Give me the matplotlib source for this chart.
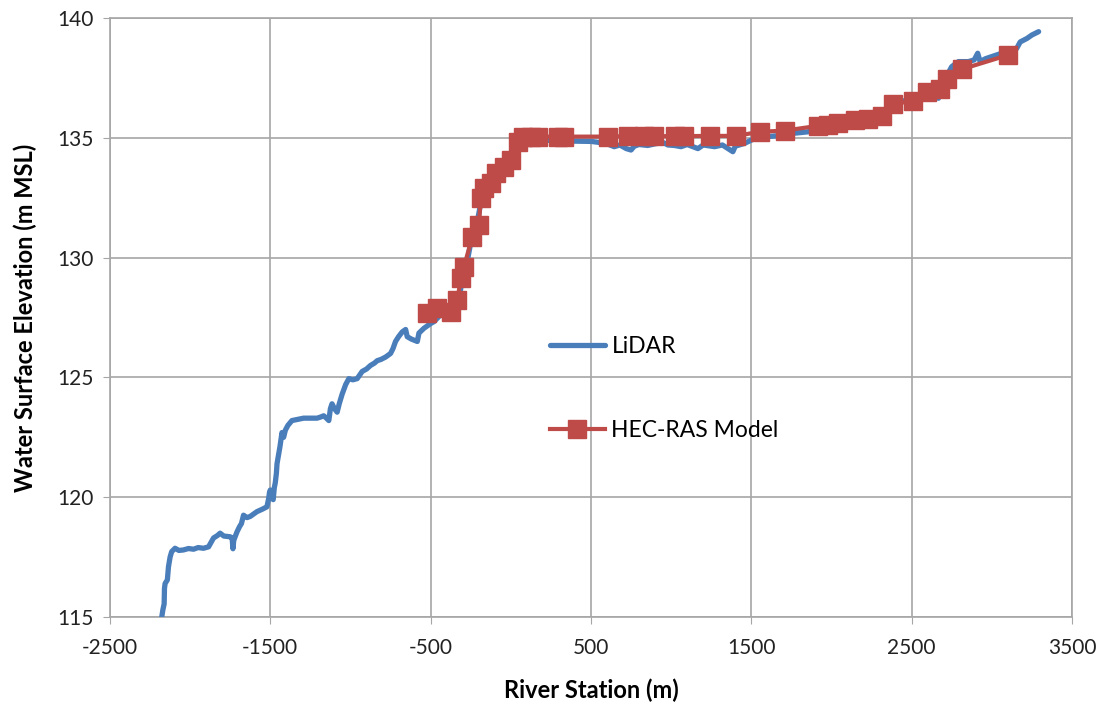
import matplotlib
matplotlib.use('Agg')
import matplotlib.pyplot as plt

# LiDAR water surface profile (river station m, elevation m MSL)
lidar_x = [-2177, -2170, -2162, -2160, -2156, -2142, -2135, -2125, -2115, -2094,
           -2070, -2042, -2010, -1979, -1950, -1917, -1885, -1854, -1830, -1813,
           -1790, -1750, -1738, -1733, -1728, -1708, -1692, -1680, -1667, -1645,
           -1625, -1583, -1550, -1521, -1510, -1505, -1500, -1490, -1482, -1475,
           -1469, -1462, -1458, -1440, -1427, -1417, -1406, -1390, -1365, -1330,
           -1292, -1250, -1208, -1185, -1167, -1150, -1135, -1125, -1115, -1100,
           -1083, -1070, -1052, -1030, -1010, -985, -958, -927, -900, -875,
           -850, -833, -810, -781, -750, -735, -719, -700, -677, -656,
           -646, -620, -583, -573, -542, -500, -479, -440, -400, -360,
           -330, -310, -290, -270, -245, -215, -195, -180, -150, -120,
           -90, -60, -20, 10, 40, 70, 120, 200, 300, 400,
           500, 560, 600, 645, 680, 720, 750, 770, 800, 854,
           900, 950, 980, 1020, 1062, 1100, 1167, 1200, 1271, 1320,
           1385, 1400, 1458, 1521, 1600, 1688, 1750, 1854, 1900, 1960,
           2000, 2060, 2100, 2160, 2200, 2260, 2300, 2350, 2385, 2417,
           2479, 2530, 2580, 2620, 2650, 2667, 2687, 2720, 2750, 2792,
           2854, 2890, 2912, 2927, 2960, 3000, 3062, 3100, 3130, 3156,
           3177, 3220, 3250, 3292]
lidar_y = [115.0, 115.3, 115.55, 116.2, 116.4, 116.55, 117.1, 117.5, 117.73, 117.87,
           117.78, 117.8, 117.86, 117.83, 117.9, 117.87, 117.93, 118.3, 118.4, 118.5,
           118.38, 118.35, 118.3, 117.85, 118.2, 118.55, 118.77, 118.9, 119.25, 119.15,
           119.2, 119.4, 119.5, 119.6, 119.95, 120.2, 120.3, 120.0, 119.9, 120.4,
           120.6, 121.0, 121.4, 122.1, 122.7, 122.5, 122.8, 123.0, 123.2, 123.25,
           123.3, 123.3, 123.3, 123.35, 123.4, 123.3, 123.2, 123.7, 123.9, 123.7,
           123.55, 123.9, 124.3, 124.7, 124.95, 124.9, 124.95, 125.25, 125.35, 125.5,
           125.6, 125.7, 125.75, 125.85, 126.0, 126.2, 126.5, 126.7, 126.9, 127.0,
           126.7, 126.6, 126.5, 126.85, 127.05, 127.25, 127.33, 127.6, 127.7, 127.8,
           128.0, 128.8, 129.5, 129.9, 130.8, 131.3, 132.0, 132.6, 132.9, 133.2,
           133.5, 133.75, 134.0, 134.3, 134.7, 134.9, 134.92, 134.9, 134.88, 134.86,
           134.85, 134.8, 134.75, 134.63, 134.7, 134.55, 134.49, 134.65, 134.72, 134.68,
           134.75, 134.8, 134.7, 134.68, 134.63, 134.72, 134.55, 134.7, 134.63, 134.7,
           134.42, 134.65, 134.77, 134.97, 135.05, 135.1, 135.18, 135.25, 135.4, 135.5,
           135.55, 135.6, 135.65, 135.7, 135.75, 135.8, 135.88, 136.1, 136.35, 136.5,
           136.58, 136.6, 136.75, 136.85, 136.75, 136.65, 137.13, 137.6, 137.97, 138.18,
           138.18, 138.25, 138.53, 138.18, 138.3, 138.39, 138.53, 138.45, 138.55, 138.74,
           139.0, 139.15, 139.29, 139.43]

# HEC-RAS model cross sections
model_x = [-521, -458, -375, -333, -312, -292, -240, -198, -188, -167,
           -125, -94, -42, 0, 42, 73, 125, 170, 292, 333,
           604, 729, 833, 896, 1021, 1083, 1240, 1406, 1552, 1708,
           1917, 1979, 2042, 2146, 2229, 2312, 2385, 2510, 2594, 2677,
           2719, 2812, 3104]
model_y = [127.67, 127.88, 127.74, 128.23, 129.14, 129.62, 130.87, 131.36, 132.47, 132.89,
           133.1, 133.52, 133.8, 134.07, 134.84, 135.05, 135.05, 135.05, 135.05, 135.05,
           135.05, 135.07, 135.07, 135.07, 135.07, 135.07, 135.08, 135.08, 135.25, 135.3,
           135.5, 135.55, 135.63, 135.74, 135.77, 135.9, 136.41, 136.54, 136.93, 137.02,
           137.44, 137.86, 138.46]

plt.rcParams['font.family'] = ['Lato', 'DejaVu Sans']
plt.rcParams['axes.unicode_minus'] = False

fig = plt.figure(figsize=(11.04, 7.06), dpi=100)
ax = fig.add_axes([0.0996, 0.126, 0.8714, 0.8485])

ax.plot(lidar_x, lidar_y, color='#4A7EBB', lw=3.8, solid_capstyle='round',
        solid_joinstyle='round', label='LiDAR', zorder=3)
ax.plot(model_x, model_y, color='#BE4B48', lw=3, marker='s', ms=13,
        mec='#BE4B48', mfc='#BE4B48', label='HEC-RAS Model', zorder=4)

ax.set_xlim(-2500, 3500)
ax.set_ylim(115, 140)
ax.set_xticks(range(-2500, 3501, 1000))
ax.set_yticks(range(115, 141, 5))
ax.grid(True, color='#A6A6A6', lw=1.2)
ax.set_axisbelow(True)
for s in ax.spines.values():
    s.set_color('#A6A6A6')
    s.set_linewidth(1.2)
ax.tick_params(direction='out', length=5, color='#A6A6A6', labelsize=15,
               labelcolor='#222222')
ax.tick_params(axis='y', pad=7)
ax.tick_params(axis='x', pad=10)

ax.set_xlabel('River Station (m)', fontsize=17, fontweight='bold', labelpad=15)
ax.set_ylabel('Water Surface Elevation (m MSL)', fontsize=17, fontweight='bold',
              labelpad=14)

ax.legend(loc='center left', bbox_to_anchor=(0.457, 0.382), frameon=False,
          fontsize=16.5, handlelength=2.4, handletextpad=0.3, labelspacing=2.75,
          borderpad=0, borderaxespad=0)

plt.savefig('out.png', dpi=100)
